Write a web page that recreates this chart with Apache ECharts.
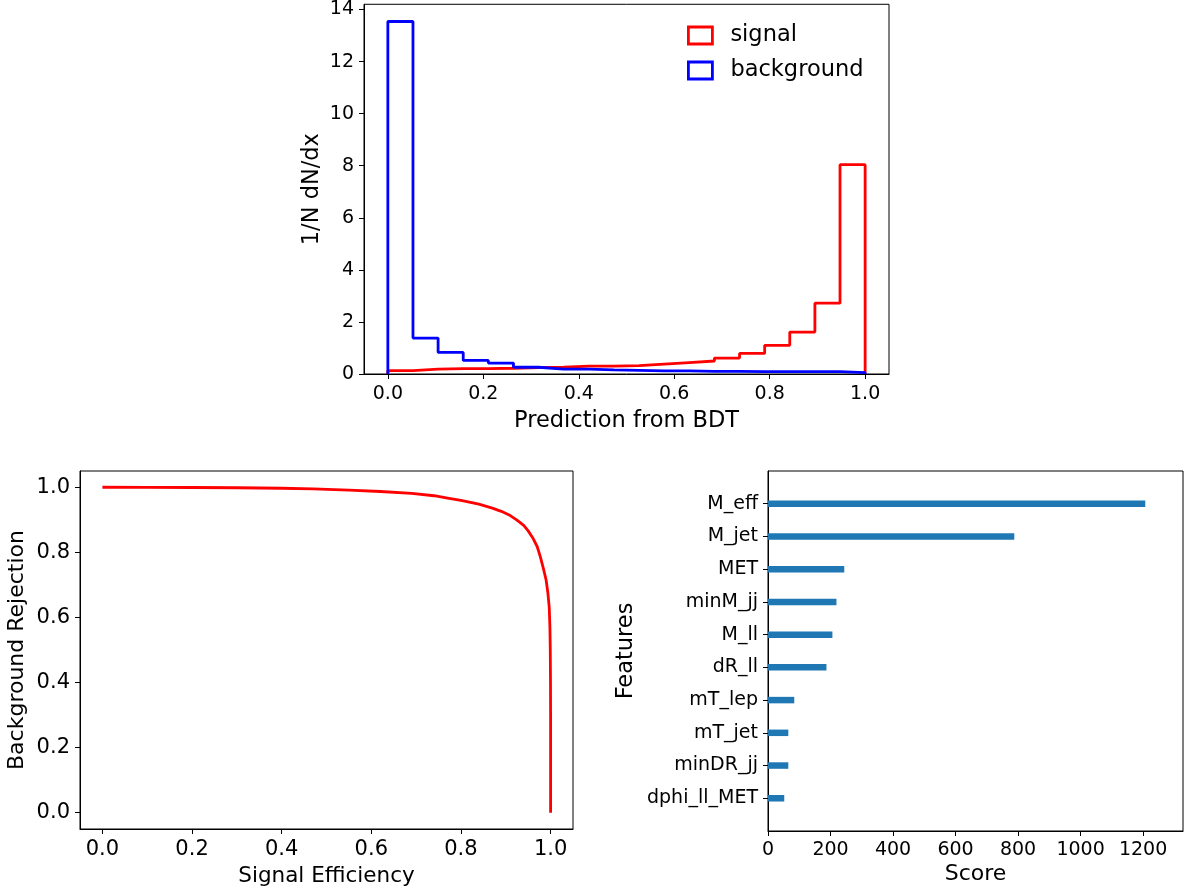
<!DOCTYPE html>
<html>
<head>
<meta charset="utf-8">
<script src="https://cdn.jsdelivr.net/npm/echarts@6/dist/echarts.min.js"></script>
<style>
  html, body { margin: 0; padding: 0; background: #fff; }
  #chart { width: 1185px; height: 894px; }
</style>
</head>
<body>
<div id="chart"></div>
<script>
// ---------------- data ----------------
// Histogram of BDT prediction: 19 equal bins on [0, 1]
const histRange = [0, 1];
const histBinCount = 19;
const signalHist = [0.13, 0.19, 0.21, 0.21, 0.22, 0.25, 0.26, 0.30, 0.30, 0.32,
                    0.38, 0.44, 0.50, 0.61, 0.79, 1.10, 1.61, 2.72, 8.04];
const backgroundHist = [13.54, 1.38, 0.83, 0.52, 0.42, 0.26, 0.19, 0.19, 0.16, 0.14,
                        0.12, 0.12, 0.10, 0.10, 0.09, 0.09, 0.09, 0.09, 0.05];
const histXTicks = [0, 0.2, 0.4, 0.6, 0.8, 1.0];
const histYTicks = [0, 2, 4, 6, 8, 10, 12, 14];

// ROC curve
const rocEff = [0, 0.1, 0.2, 0.3, 0.4, 0.47, 0.55, 0.62, 0.69, 0.74, 0.77, 0.80, 0.84, 0.87,
                0.89, 0.91, 0.925, 0.94, 0.95, 0.96, 0.97, 0.977, 0.984, 0.99, 0.994, 0.997,
                0.9985, 0.9993, 0.9998, 1.0, 1.0];
const rocRej = [1.0, 0.9998, 0.9993, 0.9985, 0.997, 0.995, 0.991, 0.987, 0.981, 0.974, 0.967,
                0.960, 0.948, 0.936, 0.926, 0.913, 0.899, 0.883, 0.866, 0.845, 0.818, 0.787,
                0.75, 0.715, 0.675, 0.63, 0.57, 0.5, 0.4, 0.3, 0.0];
const rocTicks = [0, 0.2, 0.4, 0.6, 0.8, 1.0];

// Feature importance (top to bottom)
const features = ['M_eff', 'M_jet', 'MET', 'minM_jj', 'M_ll', 'dR_ll', 'mT_lep', 'mT_jet', 'minDR_jj', 'dphi_ll_MET'];
const scores = [1207, 788, 244, 219, 206, 187, 84, 65, 65, 52];
const scoreTicks = [0, 200, 400, 600, 800, 1000, 1200];

// ---------------- helpers ----------------
function stepPath(values) {
  const w = (histRange[1] - histRange[0]) / histBinCount;
  const pts = [[histRange[0], 0]];
  values.forEach((v, i) => {
    const x0 = histRange[0] + i * w, x1 = histRange[0] + (i + 1) * w;
    pts.push([x0, v], [x1, v]);
  });
  pts.push([histRange[1], 0]);
  return pts;
}

const FONT = 'DejaVu Sans';
const black = '#000';
const tickStyle = { lineStyle: { color: black, width: 1 }, length: 5 };
const axLine = { show: true, onZero: false, lineStyle: { color: black, width: 1 } };
const LW = 2.8;

// category axis for bars, padded so that range is [-1, n]
const catData = [''].concat(features.slice().reverse(), ['']);
const barData = [null].concat(scores.slice().reverse(), [null]);
const scoreMax = 1.1 * Math.max(...scores);

const chart = echarts.init(document.getElementById('chart'), null, { renderer: 'canvas' });

const option = {
  animation: false,
  backgroundColor: '#fff',
  textStyle: { fontFamily: FONT, color: black },
  grid: [
    { left: 364, top: 2, width: 525, height: 372, show: true, borderColor: black, borderWidth: 1, containLabel: false },
    { left: 80, top: 471, width: 493, height: 358, show: true, borderColor: black, borderWidth: 1, containLabel: false },
    { left: 768, top: 471, width: 415, height: 360, show: true, borderColor: black, borderWidth: 1, containLabel: false }
  ],
  legend: {
    orient: 'vertical',
    left: 682, top: 19,
    itemWidth: 24, itemHeight: 17, itemGap: 12,
    textStyle: { fontFamily: FONT, fontSize: 22.5, color: black, padding: [0, 0, 0, 13] },
    data: [
      { name: 'signal', icon: 'rect', itemStyle: { color: 'rgba(0,0,0,0)', borderColor: '#ff0000', borderWidth: LW } },
      { name: 'background', icon: 'rect', itemStyle: { color: 'rgba(0,0,0,0)', borderColor: '#0000ff', borderWidth: LW } }
    ]
  },
  xAxis: [
    {
      gridIndex: 0, type: 'value', min: -0.05, max: 1.05,
      axisLine: axLine, splitLine: { show: false },
      axisTick: Object.assign({ show: true, customValues: histXTicks }, tickStyle),
      axisLabel: { customValues: histXTicks, formatter: v => v.toFixed(1), fontSize: 19, color: black, margin: 11, fontFamily: FONT },
      name: 'Prediction from BDT', nameLocation: 'middle', nameGap: 36,
      nameTextStyle: { fontSize: 22.5, color: black, fontFamily: FONT }
    },
    {
      gridIndex: 1, type: 'value', min: -0.05, max: 1.05,
      axisLine: axLine, splitLine: { show: false },
      axisTick: Object.assign({ show: true, customValues: rocTicks }, tickStyle),
      axisLabel: { customValues: rocTicks, formatter: v => v.toFixed(1), fontSize: 21, color: black, margin: 10, fontFamily: FONT },
      name: 'Signal Efficiency', nameLocation: 'middle', nameGap: 36,
      nameTextStyle: { fontSize: 21.5, color: black, fontFamily: FONT }
    },
    {
      gridIndex: 2, type: 'value', min: 0, max: scoreMax,
      axisLine: axLine, splitLine: { show: false },
      axisTick: Object.assign({ show: true, customValues: scoreTicks }, tickStyle),
      axisLabel: { customValues: scoreTicks, formatter: v => String(v), fontSize: 19, color: black, margin: 10, fontFamily: FONT },
      name: 'Score', nameLocation: 'middle', nameGap: 32,
      nameTextStyle: { fontSize: 22, color: black, fontFamily: FONT }
    }
  ],
  yAxis: [
    {
      gridIndex: 0, type: 'value', min: 0, max: 14.2,
      axisLine: axLine, splitLine: { show: false },
      axisTick: Object.assign({ show: true, customValues: histYTicks }, tickStyle),
      axisLabel: { customValues: histYTicks, formatter: v => String(v), fontSize: 19, color: black, margin: 10, fontFamily: FONT },
      name: '1/N dN/dx', nameLocation: 'middle', nameGap: 40,
      nameTextStyle: { fontSize: 22.5, color: black, fontFamily: FONT }
    },
    {
      gridIndex: 1, type: 'value', min: -0.05, max: 1.05,
      axisLine: axLine, splitLine: { show: false },
      axisTick: Object.assign({ show: true, customValues: rocTicks }, tickStyle),
      axisLabel: { customValues: rocTicks, formatter: v => v.toFixed(1), fontSize: 21, color: black, margin: 10, fontFamily: FONT },
      name: 'Background Rejection', nameLocation: 'middle', nameGap: 52,
      nameTextStyle: { fontSize: 22, color: black, fontFamily: FONT }
    },
    {
      gridIndex: 2, type: 'category', data: catData, boundaryGap: false,
      axisLine: axLine, splitLine: { show: false },
      axisTick: Object.assign({ show: true, interval: (i, v) => v !== '' }, tickStyle),
      axisLabel: { interval: 0, fontSize: 19, color: black, margin: 10, fontFamily: FONT },
      name: 'Features', nameLocation: 'middle', nameGap: 130,
      nameTextStyle: { fontSize: 22.5, color: black, fontFamily: FONT }
    }
  ],
  series: [
    {
      name: 'signal', type: 'line', xAxisIndex: 0, yAxisIndex: 0,
      data: stepPath(signalHist), showSymbol: false, symbol: 'none',
      lineStyle: { color: '#ff0000', width: LW }, itemStyle: { color: '#ff0000' }
    },
    {
      name: 'background', type: 'line', xAxisIndex: 0, yAxisIndex: 0,
      data: stepPath(backgroundHist), showSymbol: false, symbol: 'none',
      lineStyle: { color: '#0000ff', width: LW }, itemStyle: { color: '#0000ff' }
    },
    {
      name: 'ROC', type: 'line', xAxisIndex: 1, yAxisIndex: 1,
      data: rocEff.map((e, i) => [e, rocRej[i]]), showSymbol: false, symbol: 'none',
      lineStyle: { color: '#ff0000', width: LW }
    },
    {
      name: 'importance', type: 'bar', xAxisIndex: 2, yAxisIndex: 2,
      data: barData, barWidth: 6.5, itemStyle: { color: '#1f77b4' }
    }
  ]
};
chart.setOption(option);
</script>
</body>
</html>
